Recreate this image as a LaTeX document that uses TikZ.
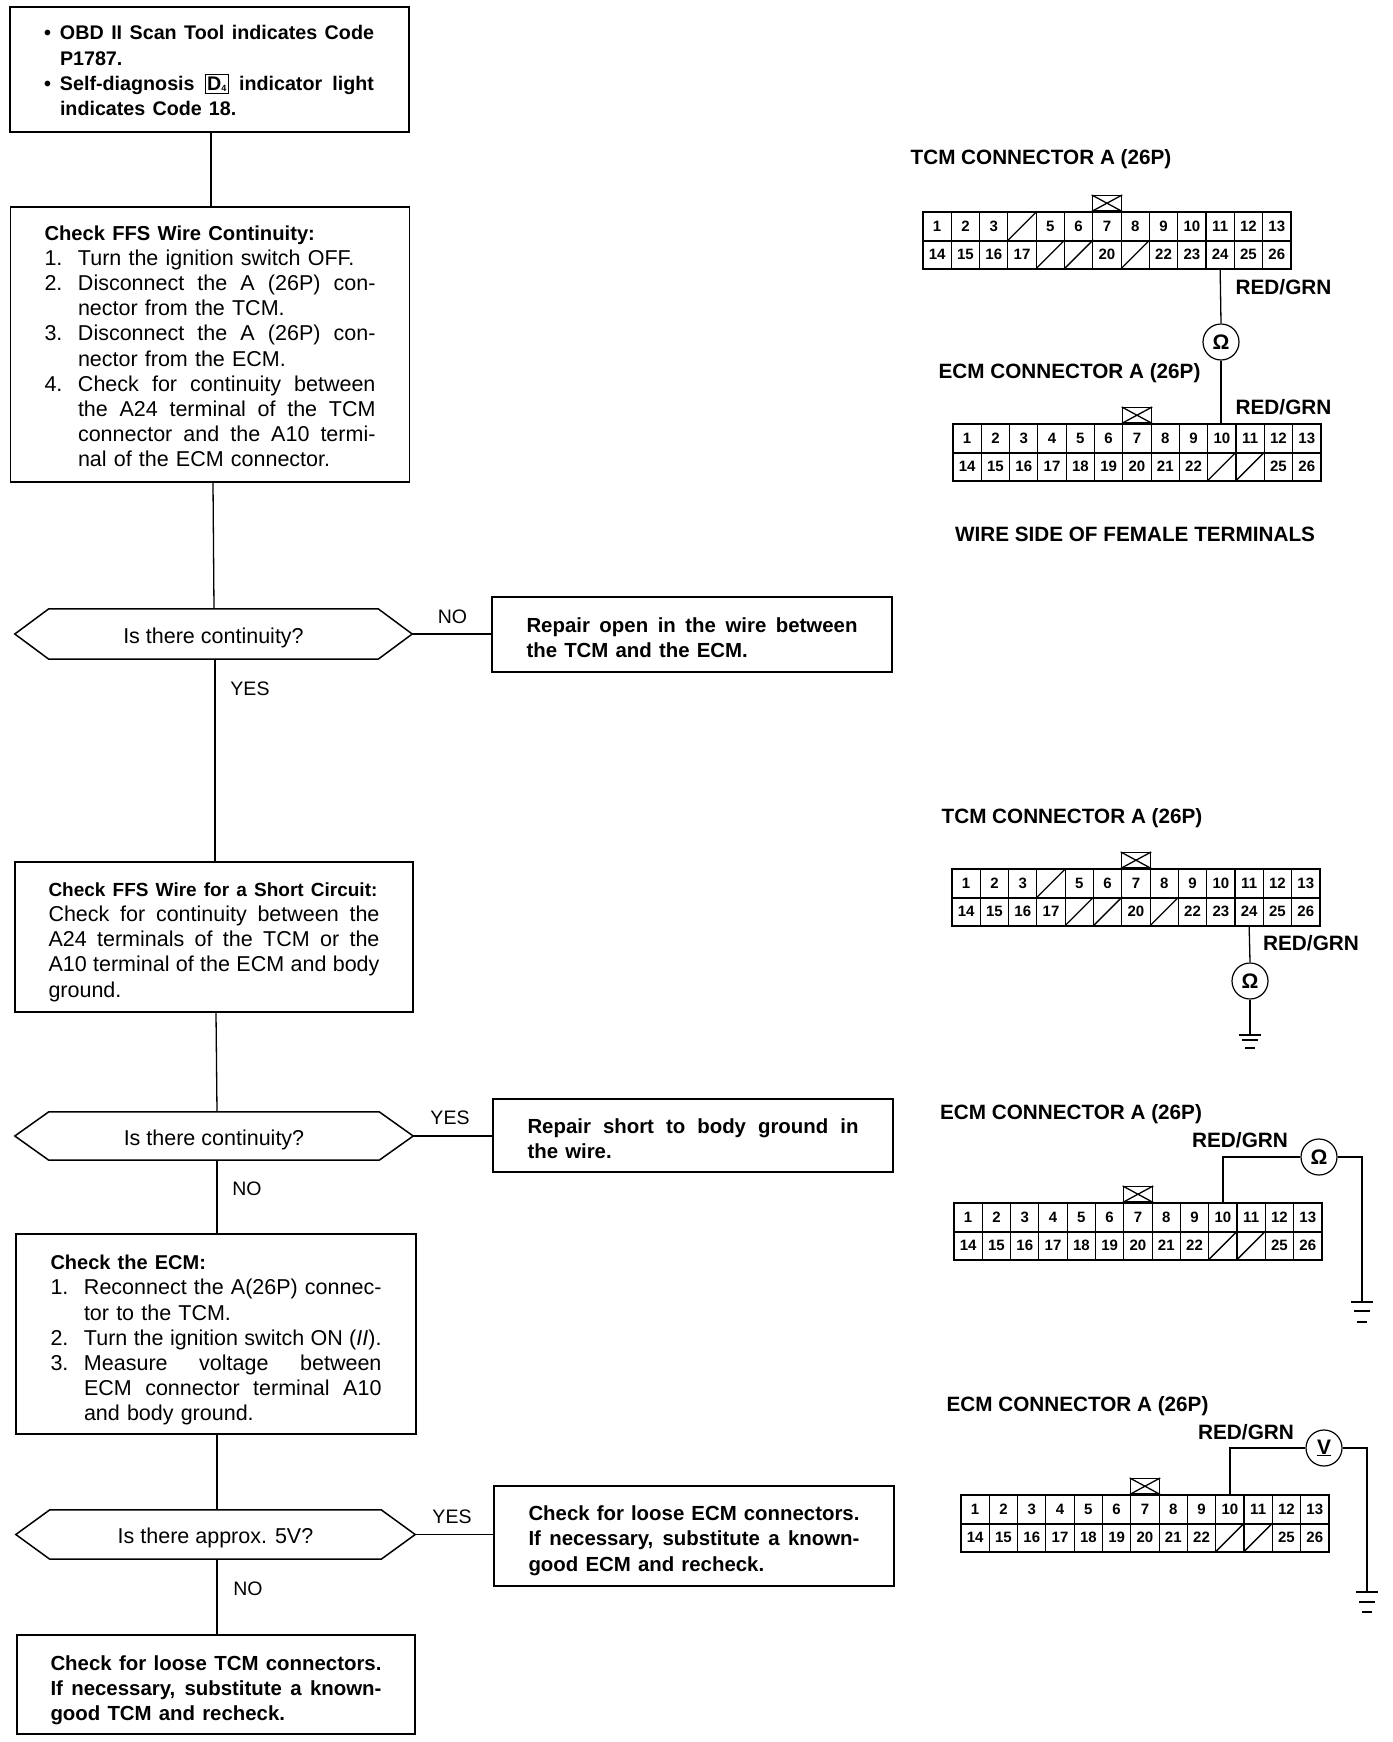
\documentclass[tikz,border=0pt]{standalone}
\usepackage{fontspec}
\setmainfont{Liberation Sans}
\usetikzlibrary{calc}
\newcommand{\Just}[2]{\makebox[#1][s]{\spaceskip=.25em plus 1fil minus .08em\relax #2}}
\newcommand{\J}[1]{\Just{331pt}{#1}\par}
\newcommand{\NL}[2]{\makebox[33.5pt][l]{#1}#2\par}
\newcommand{\NJ}[2]{\makebox[33.5pt][l]{#1}\Just{297.5pt}{#2}\par}
\newcommand{\HL}[1]{\hspace*{33.5pt}#1\par}
\newcommand{\HJ}[1]{\hspace*{33.5pt}\Just{297.5pt}{#1}\par}
\newcommand{\BJ}[1]{\makebox[16pt][l]{\textbullet}\Just{314pt}{#1}\par}
\newcommand{\BL}[1]{\hspace*{16pt}#1\par}
\newcommand{\Bd}{\bfseries\fontsize{20.4}{25.2}\selectfont}
\newcommand{\Drop}[2]{\raisebox{-#1pt}[0pt][0pt]{#2}}
% lowers a text block by #1 pt, measured from the baseline at the centre of its box
\newcommand{\Shift}[2]{\setbox0=\hbox{\parbox[c]{331pt}{#2}}\setbox0=\hbox{\lower #1pt\box0}\ht0=0pt\dp0=0pt\leavevmode\box0 }
\newcommand{\Dfour}{\raisebox{0pt}[0pt][0pt]{\fboxsep=1.5pt\fboxrule=0.9pt\fbox{D\raisebox{-1.5pt}{\fontsize{9}{9}\selectfont 4}}}}
\def\tcmcells{1,2,3,5,6,7,8,9,10,11,12,13,14,15,16,17,20,22,23,24,25,26}
\def\tcmslash{4,18,19,21}
\def\ecmcells{1,2,3,4,5,6,7,8,9,10,11,12,13,14,15,16,17,18,19,20,21,22,25,26}
\def\ecmslash{23,24}
% name, left, top, labelled cells, slashed cells
\newcommand{\connector}[5]{%
  \foreach \n in #4 {%
    \pgfmathtruncatemacro{\rw}{(\n-1)/13}\pgfmathtruncatemacro{\cl}{\n-13*\rw-1}%
    \node[cell] (#1-\n) at ({#2+(\cl+.5)*28.3},{#3+(\rw+.5)*28.3}) {\n};}%
  \foreach \n in #5 {%
    \pgfmathtruncatemacro{\rw}{(\n-1)/13}\pgfmathtruncatemacro{\cl}{\n-13*\rw-1}%
    \node[cell] (#1-\n) at ({#2+(\cl+.5)*28.3},{#3+(\rw+.5)*28.3}) {};
    \draw[wire] (#1-\n.south west) -- (#1-\n.north east);}%
  \draw[frame] (#1-1.north west) rectangle (#1-26.south east);
  \draw[frame] (#1-1.south west) -- (#1-26.north east |- #1-1.south);
  \node[keybox,anchor=south] (#1-key) at (#1-7.north) {};
  \draw[wire] (#1-key.north west) -- (#1-key.south east) (#1-key.north east) -- (#1-key.south west);
}
% name, x, y, second bar offset, third bar offset
\newcommand{\ground}[5]{%
  \coordinate (#1) at (#2,#3);
  \draw[wire] ([xshift=-11]#1) -- ([xshift=11]#1);
  \draw[wire] ([xshift=-8,yshift=-#4]#1) -- ([xshift=8,yshift=-#4]#1);
  \draw[wire] ([xshift=-5,yshift=-#5]#1) -- ([xshift=5,yshift=-#5]#1);
}
% name, cx, cy, width, height, text
\newcommand{\decision}[6]{%
  \node[deco,minimum width=#4pt,minimum height=#5pt] (#1) at (#2,#3) {\Drop{9}{#6}};
  \draw[boxline] (#1.west) -- ([xshift=34]#1.north west) -- ([xshift=-34]#1.north east) -- (#1.east)
     -- ([xshift=-34]#1.south east) -- ([xshift=34]#1.south west) -- cycle;
}
\tikzset{
  boxline/.style={line width=1.5pt,line join=miter},
  wire/.style={line width=1.3pt},
  frame/.style={line width=1.8pt},
  box/.style={draw,boxline,rectangle,inner sep=0pt,text width=331pt,
     font=\fontsize{21.5}{25.2}\selectfont},
  cell/.style={draw,line width=1.1pt,rectangle,inner sep=0pt,minimum width=28.3pt,minimum height=28.3pt,
     font=\bfseries\fontsize{15}{15}\selectfont},
  keybox/.style={draw,line width=1.5pt,rectangle,inner sep=0pt,minimum width=29pt,minimum height=15pt},
  deco/.style={rectangle,inner sep=0pt,font=\fontsize{21.5}{22}\selectfont},
  lab/.style={inner sep=0pt,font=\fontsize{19.5}{22}\selectfont},
  head/.style={inner sep=0pt,font=\bfseries\fontsize{20.7}{24}\selectfont},
  wirecode/.style={inner sep=0pt,font=\bfseries\fontsize{20.8}{24}\selectfont},
  meter/.style={draw,circle,line width=1.2pt,inner sep=0pt,outer sep=1pt,minimum size=36pt,font=\bfseries\fontsize{21}{22}\selectfont},
}
\begin{document}
\begin{tikzpicture}[x=1pt,y=-1pt]
\useasboundingbox (0,0) rectangle (1392,1742);
% flow boxes
\node[box,minimum width=399pt,minimum height=125pt] (b1) at (209.5,69.5) {\Shift{6.4}{\bfseries\fontsize{19.7}{25.2}\selectfont
  \BJ{OBD II Scan Tool indicates Code}
  \BL{P1787.}
  \BJ{Self-diagnosis \Dfour{} indicator light}
  \BL{indicates Code 18.}}};
\node[box,minimum width=399pt,minimum height=275pt] (b2) at (210,344.5) {\Shift{7}{
  {\bfseries\fontsize{20.2}{25.2}\selectfont Check FFS Wire Continuity:\par}
  \NL{1.}{Turn the ignition switch OFF.}
  \NJ{2.}{Disconnect the A (26P) con-}
  \HL{nector from the TCM.}
  \NJ{3.}{Disconnect the A (26P) con-}
  \HL{nector from the ECM.}
  \NJ{4.}{Check for continuity between}
  \HJ{the A24 terminal of the TCM}
  \HJ{connector and the A10 termi-}
  \HL{nal of the ECM connector.}}};
\decision{d1}{213.5}{634}{397}{50}{Is there continuity?}
\node[box,minimum width=400pt,minimum height=75pt] (r1) at (692,634.5) {\Shift{8}{\Bd
  \J{Repair open in the wire between}
  the TCM and the ECM.\par}};
\node[box,minimum width=398pt,minimum height=150pt] (b3) at (214,937) {\Shift{10.3}{
  {\bfseries\fontsize{19}{25.2}\selectfont \makebox[331pt][l]{Check FFS Wire for a Short Circuit:}\par}
  \J{Check for continuity between the}
  \J{A24 terminals of the TCM or the}
  \J{A10 terminal of the ECM and body}
  ground.\par}};
\decision{d2}{214}{1136}{398}{48}{Is there continuity?}
\node[box,minimum width=400pt,minimum height=73pt] (r2) at (693,1135.5) {\Shift{8}{\Bd
  \J{Repair short to body ground in}
  the wire.\par}};
\node[box,minimum width=400pt,minimum height=200pt] (b4) at (216,1334) {\Shift{11.4}{
  {\bfseries\fontsize{20}{25.2}\selectfont Check the ECM:\par}
  \NJ{1.}{Reconnect the A(26P) connec-}
  \HL{tor to the TCM.}
  \NJ{2.}{Turn the ignition switch ON (\textit{II}).}
  \NJ{3.}{Measure voltage between}
  \HJ{ECM connector terminal A10}
  \HL{and body ground.}}};
\decision{d3}{215.5}{1534.5}{399}{49}{Is there approx. 5V?}
\node[box,minimum width=400pt,minimum height=100pt] (r3) at (694,1536) {\Shift{9.8}{\Bd
  \J{Check for loose ECM connectors.}
  \J{If necessary, substitute a known-}
  good ECM and recheck.\par}};
\node[box,minimum width=398pt,minimum height=99pt] (b5) at (216,1684.5) {\Shift{10.8}{\Bd
  \J{Check for loose TCM connectors.}
  \J{If necessary, substitute a known-}
  good TCM and recheck.\par}};
% flow connectors
\draw[wire] ([xshift=1.5]b1.south) -- ([xshift=1]b2.north);
\draw[wire] ([xshift=3]b2.south) -- ([xshift=.5]d1.north);
\draw[wire] (d1.east) -- (r1.west |- d1.east);
\draw[wire] ([xshift=1.5]d1.south) -- ([xshift=1]b3.north);
\draw[wire] ([xshift=2]b3.south) -- ([xshift=3]d2.north);
\draw[wire] (d2.east) -- (r2.west |- d2.east);
\draw[wire] ([xshift=3]d2.south) -- ([xshift=1]b4.north);
\draw[wire] ([xshift=1]b4.south) -- ([xshift=1.5]d3.north);
\draw[wire] (d3.east) -- (r3.west |- d3.east);
\draw[wire] ([xshift=1.5]d3.south) -- ([xshift=1]b5.north);
% flow labels
\node[lab] (l1) at (452.5,617) {NO};
\node[lab] (l2) at (250,689) {YES};
\node[lab] (l3) at (450,1118) {YES};
\node[lab] (l4) at (247,1189) {NO};
\node[lab] (l5) at (452,1517) {YES};
\node[lab] (l6) at (248,1589) {NO};
% connector diagram 1
\node[head] (h1) at (1041,159.5) {TCM CONNECTOR A (26P)};
\connector{ta}{923}{212}{\tcmcells}{\tcmslash}
\node[wirecode] (c1) at (1283.5,287) {RED/GRN};
\node[meter] (m1) at (1221,342) {Ω};
\node[head] (h2) at (1069.5,373) {ECM CONNECTOR A (26P)};
\node[wirecode] (c2) at (1283.5,407) {RED/GRN};
\connector{ea}{953}{424}{\ecmcells}{\ecmslash}
\node[head] (h3) at (1135,534) {WIRE SIDE OF FEMALE TERMINALS};
\draw[wire] (ta-24.south) -- (m1.north);
\draw[wire] (m1.south) -- (m1.south |- ea-10.north);
% connector diagram 2
\node[head] (h4) at (1072,818) {TCM CONNECTOR A (26P)};
\connector{tb}{952}{869}{\tcmcells}{\tcmslash}
\node[wirecode] (c3) at (1311,943) {RED/GRN};
\node[meter] (m2) at (1250,981) {Ω};
\ground{g2}{1250}{1035}{5}{13}
\draw[wire] (tb-24.south) -- (m2.north);
\draw[wire] (m2.south) -- (g2);
% connector diagram 3
\node[head] (h5) at (1071,1114) {ECM CONNECTOR A (26P)};
\node[wirecode] (c4) at (1240,1140) {RED/GRN};
\node[meter] (m3) at (1319,1157) {Ω};
\connector{eb}{954}{1203}{\ecmcells}{\ecmslash}
\ground{g3}{1362}{1302}{9}{20}
\draw[wire] (eb-10.north) |- (m3.west);
\draw[wire] (m3.east) -| (g3);
% connector diagram 4
\node[head] (h6) at (1077.5,1406) {ECM CONNECTOR A (26P)};
\node[wirecode] (c5) at (1246,1432) {RED/GRN};
\node[meter] (m4) at (1324,1448) {\underline{V}};
\connector{ec}{961}{1495}{\ecmcells}{\ecmslash}
\ground{g4}{1367}{1592}{10}{20}
\draw[wire] (ec-10.north) |- (m4.west);
\draw[wire] (m4.east) -| (g4);
\end{tikzpicture}
\end{document}
